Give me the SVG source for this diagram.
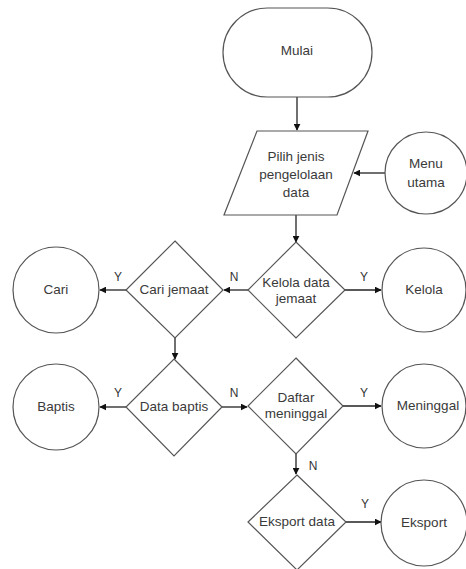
<svg xmlns="http://www.w3.org/2000/svg" width="466" height="569" viewBox="0 0 466 569">
  <style>
    .shape { fill: #ffffff; stroke: #555555; stroke-width: 1.2; }
    .edge { fill: none; stroke: #222222; stroke-width: 1.3; }
    text { font-family: "Liberation Sans", Arial, sans-serif; font-size: 13.5px; fill: #3a3a3a; text-anchor: middle; dominant-baseline: middle; }
    .lbl { font-size: 12px; fill: #333333; }
  </style>
  <defs>
    <marker id="arrow" viewBox="0 0 10 10" refX="9" refY="5" markerWidth="7" markerHeight="7" orient="auto" markerUnits="userSpaceOnUse">
      <path d="M0,0 L10,5 L0,10 z" fill="#111111"/>
    </marker>
  </defs>
  <rect width="466" height="569" fill="#ffffff"/>

  <g id="connectors">
    <line class="edge" x1="297" y1="97" x2="297" y2="130" marker-end="url(#arrow)"/>
    <line class="edge" x1="385" y1="173" x2="354" y2="173" marker-end="url(#arrow)"/>
    <line class="edge" x1="296" y1="215" x2="296" y2="242" marker-end="url(#arrow)"/>
    <line class="edge" x1="248" y1="290" x2="224" y2="290" marker-end="url(#arrow)"/>
    <line class="edge" x1="345" y1="290" x2="381" y2="290" marker-end="url(#arrow)"/>
    <line class="edge" x1="126" y1="290" x2="100" y2="290" marker-end="url(#arrow)"/>
    <line class="edge" x1="175" y1="338" x2="175" y2="359" marker-end="url(#arrow)"/>
    <line class="edge" x1="126" y1="407" x2="100" y2="407" marker-end="url(#arrow)"/>
    <line class="edge" x1="222" y1="407" x2="247" y2="407" marker-end="url(#arrow)"/>
    <line class="edge" x1="343" y1="406" x2="381" y2="406" marker-end="url(#arrow)"/>
    <line class="edge" x1="296" y1="454" x2="296" y2="474" marker-end="url(#arrow)"/>
    <line class="edge" x1="346" y1="522" x2="381" y2="522" marker-end="url(#arrow)"/>
    <text class="lbl" x="118" y="278">Y</text>
    <text class="lbl" x="234" y="278">N</text>
    <text class="lbl" x="364" y="278">Y</text>
    <text class="lbl" x="118" y="394">Y</text>
    <text class="lbl" x="234" y="394">N</text>
    <text class="lbl" x="364" y="394">Y</text>
    <text class="lbl" x="313" y="467">N</text>
    <text class="lbl" x="365" y="505">Y</text>
  </g>

  <g id="mulai">
    <rect class="shape" x="223" y="8" width="149" height="89" rx="44.5" ry="44.5"/>
    <text x="297" y="51">Mulai</text>
  </g>

  <g id="pilih-jenis">
    <polygon class="shape" points="257,131 368,131 337,215 224,215"/>
    <text x="296" y="157">Pilih jenis</text>
    <text x="296" y="175">pengelolaan</text>
    <text x="296" y="193">data</text>
  </g>

  <g id="menu-utama">
    <circle class="shape" cx="426" cy="173" r="41"/>
    <text x="426" y="164">Menu</text>
    <text x="426" y="183">utama</text>
  </g>

  <g id="kelola-data">
    <polygon class="shape" points="296,242 345,290 296,338 248,290"/>
    <text x="296" y="283">Kelola data</text>
    <text x="296" y="299">jemaat</text>
  </g>

  <g id="kelola">
    <circle class="shape" cx="424" cy="290" r="42"/>
    <text x="424" y="290">Kelola</text>
  </g>

  <g id="cari-jemaat">
    <polygon class="shape" points="175,241 223,290 175,338 126,290"/>
    <text x="174" y="290">Cari jemaat</text>
  </g>

  <g id="cari">
    <circle class="shape" cx="56" cy="290" r="43"/>
    <text x="56" y="290">Cari</text>
  </g>

  <g id="data-baptis">
    <polygon class="shape" points="174,359 222,407 174,456 126,407"/>
    <text x="174" y="407">Data baptis</text>
  </g>

  <g id="baptis">
    <circle class="shape" cx="56" cy="407" r="43"/>
    <text x="56" y="407">Baptis</text>
  </g>

  <g id="daftar-meninggal">
    <polygon class="shape" points="296,358 343,406 296,454 248,406"/>
    <text x="296" y="398">Daftar</text>
    <text x="296" y="414">meninggal</text>
  </g>

  <g id="meninggal">
    <circle class="shape" cx="424" cy="406" r="42"/>
    <text x="428" y="406">Meninggal</text>
  </g>

  <g id="eksport-data">
    <polygon class="shape" points="297,475 346,522 297,570 248,522"/>
    <text x="297" y="522">Eksport data</text>
  </g>

  <g id="eksport">
    <circle class="shape" cx="424" cy="523" r="43"/>
    <text x="424" y="523">Eksport</text>
  </g>
</svg>
